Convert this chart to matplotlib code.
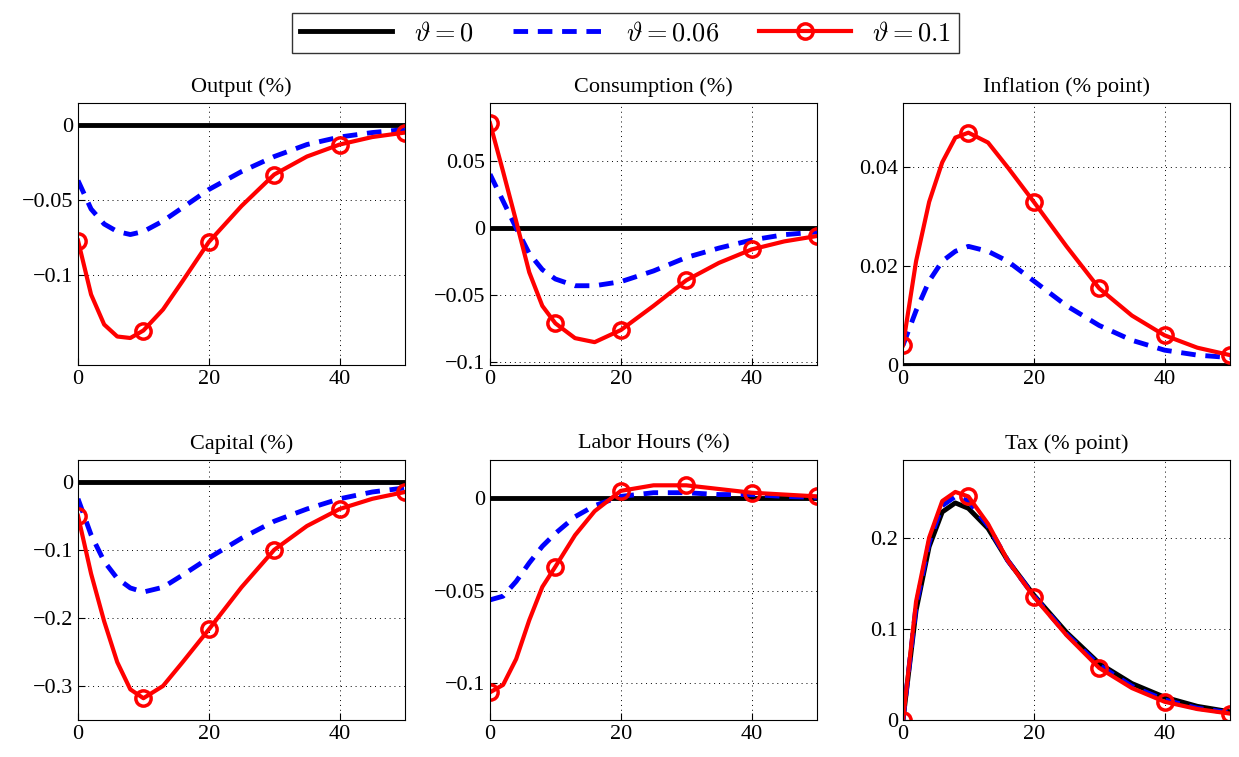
import numpy as np
import matplotlib
matplotlib.use('Agg')
import matplotlib.pyplot as plt

plt.rcParams['font.family'] = ['Liberation Serif', 'DejaVu Serif']
plt.rcParams['mathtext.fontset'] = 'cm'

t = [0, 2, 4, 6, 8, 10, 13, 16, 20, 25, 30, 35, 40, 45, 50]
mark_idx = [0, 5, 8, 10, 12, 14]

output_06 = [-0.037, -0.056, -0.066, -0.071, -0.073, -0.071, -0.064, -0.055, -0.043, -0.031, -0.021, -0.013, -0.008, -0.005, -0.003]
output_1 = [-0.077, -0.113, -0.133, -0.141, -0.142, -0.137, -0.123, -0.104, -0.078, -0.054, -0.033, -0.021, -0.013, -0.008, -0.005]
cons_06 = [0.04, 0.02, 0.0, -0.019, -0.031, -0.038, -0.043, -0.043, -0.04, -0.032, -0.022, -0.015, -0.009, -0.005, -0.003]
cons_1 = [0.078, 0.042, 0.005, -0.033, -0.058, -0.071, -0.082, -0.085, -0.076, -0.058, -0.039, -0.026, -0.016, -0.01, -0.006]
infl_06 = [0.004, 0.011, 0.017, 0.021, 0.023, 0.024, 0.023, 0.021, 0.017, 0.012, 0.008, 0.005, 0.003, 0.002, 0.0015]
infl_1 = [0.004, 0.021, 0.033, 0.041, 0.046, 0.047, 0.045, 0.04, 0.033, 0.024, 0.0155, 0.01, 0.006, 0.0035, 0.002]
cap_06 = [-0.025, -0.078, -0.117, -0.142, -0.156, -0.162, -0.155, -0.137, -0.112, -0.083, -0.058, -0.04, -0.025, -0.015, -0.009]
cap_1 = [-0.05, -0.135, -0.205, -0.265, -0.305, -0.318, -0.3, -0.265, -0.217, -0.155, -0.1, -0.065, -0.04, -0.025, -0.015]
labor_06 = [-0.055, -0.053, -0.045, -0.035, -0.026, -0.019, -0.01, -0.004, 0.001, 0.003, 0.003, 0.002, 0.002, 0.001, 0.0005]
labor_1 = [-0.105, -0.101, -0.087, -0.066, -0.048, -0.037, -0.02, -0.007, 0.004, 0.007, 0.007, 0.005, 0.003, 0.002, 0.001]
tax_0 = [0, 0.12, 0.19, 0.228, 0.238, 0.232, 0.21, 0.175, 0.137, 0.096, 0.062, 0.04, 0.025, 0.015, 0.009]
tax_06 = [0, 0.125, 0.195, 0.235, 0.245, 0.24, 0.213, 0.175, 0.136, 0.094, 0.06, 0.037, 0.022, 0.013, 0.008]
tax_1 = [0, 0.13, 0.2, 0.24, 0.25, 0.245, 0.215, 0.175, 0.135, 0.093, 0.057, 0.035, 0.02, 0.012, 0.007]
zero = [0] * len(t)

panels = [
    ('Output (%)', zero, output_06, output_1, (-0.16, 0.0147), [-0.1, -0.05, 0], ['\u22120.1', '\u22120.05', '0']),
    ('Consumption (%)', zero, cons_06, cons_1, (-0.102, 0.093), [-0.1, -0.05, 0, 0.05], ['\u22120.1', '\u22120.05', '0', '0.05']),
    ('Inflation (% point)', zero, infl_06, infl_1, (0, 0.053), [0, 0.02, 0.04], ['0', '0.02', '0.04']),
    ('Capital (%)', zero, cap_06, cap_1, (-0.35, 0.032), [-0.3, -0.2, -0.1, 0], ['\u22120.3', '\u22120.2', '\u22120.1', '0']),
    ('Labor Hours (%)', zero, labor_06, labor_1, (-0.12, 0.0207), [-0.1, -0.05, 0], ['\u22120.1', '\u22120.05', '0']),
    ('Tax (% point)', tax_0, tax_06, tax_1, (0, 0.285), [0, 0.1, 0.2], ['0', '0.1', '0.2']),
]

fig = plt.figure(figsize=(12.39, 7.57), dpi=100)
W, H = 1239, 757
lefts = [78, 490, 903]
rows = [(103, 365), (460, 720)]
aw = 327

for i, (title, s0, s6, s1, ylim, yt, ytl) in enumerate(panels):
    top, bot = rows[i // 3]
    l = lefts[i % 3]
    ax = fig.add_axes([l / W, 1 - bot / H, aw / W, (bot - top) / H])
    ax.plot(t, s0, color='black', lw=3.5, label=r'$\vartheta=0$')
    ax.plot(t, s6, color='blue', lw=3.5, ls=(0, (3, 2)), label=r'$\vartheta=0.06$')
    ax.plot(t, s1, color='red', lw=3, marker='o', markevery=mark_idx, ms=11,
            mfc='none', mec='red', mew=2.5, label=r'$\vartheta=0.1$')
    ax.set_xlim(0, 50)
    ax.set_ylim(*ylim)
    ax.set_xticks([0, 20, 40])
    ax.set_yticks(yt)
    ax.set_yticklabels(ytl)
    ax.grid(True, ls=(0, (1, 4)), color='black', lw=0.7)
    ax.tick_params(labelsize=16, direction='in', length=5)
    ax.set_title(title, fontsize=16, pad=8)
    for sp in ax.spines.values():
        sp.set_linewidth(0.8)
    if i == 0:
        handles, labels = ax.get_legend_handles_labels()

fig.legend(handles, labels, loc='upper center', bbox_to_anchor=(0.505, 1.0), ncol=3,
           fontsize=19, frameon=True, fancybox=False, edgecolor='black',
           handlelength=3.5, columnspacing=1.5, borderpad=0.3)

plt.savefig('out.png', dpi=100)
plt.close()
